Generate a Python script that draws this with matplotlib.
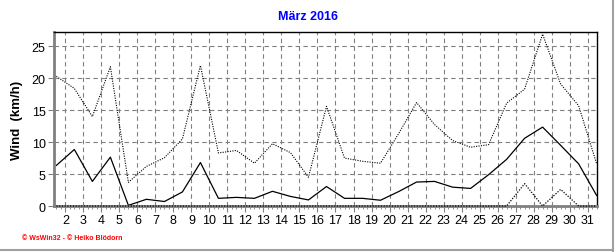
import numpy as np
import matplotlib
matplotlib.use("Agg")
import matplotlib.pyplot as plt
from matplotlib.ticker import MultipleLocator
from matplotlib.lines import Line2D

days = list(range(1, 32))
wind_avg = [6.35, 8.85, 3.85, 7.65, 0.1, 1.05, 0.7, 2.2, 6.8, 1.2,
            1.35, 1.2, 2.3, 1.5, 0.95, 3.05, 1.2, 1.2, 0.9, 2.25,
            3.75, 3.85, 2.95, 2.75, 4.9, 7.3, 10.6, 12.35, 9.5, 6.6, 1.65]
wind_max = [20.3, 18.4, 14.0, 21.8, 3.7, 6.2, 7.55, 10.5, 22.0, 8.3,
            8.7, 6.7, 9.75, 8.35, 4.5, 15.6, 7.5, 7.0, 6.7, 11.3,
            16.2, 12.75, 10.25, 9.2, 9.6, 16.1, 18.3, 26.9, 19.1, 15.7, 6.6]
wind_min = [0] * 26 + [3.5, 0, 2.6, 0, 0]
xtick_labels = [str(d) for d in range(2, 32)]

plt.rcParams["font.family"] = ["Liberation Sans", "DejaVu Sans"]

fig = plt.figure(figsize=(6.16, 2.53), dpi=100)
ax = fig.add_axes([54 / 616, 1 - 207 / 253, 543 / 616, 174 / 253])

x = np.array(days) + 0.5
ax.plot(x, wind_max, color="black", lw=0.8, ls=(0, (1, 1.2)))
ax.plot(x, wind_avg, color="black", lw=0.9)
ax.plot(x, wind_min, color="black", lw=0.9, ls=(0, (1, 1.2)), clip_on=False, zorder=5)

ax.set_xlim(1.37, 31.52)
ax.set_ylim(0, 27.24)

ax.set_xticks(range(2, 32))
ax.set_xticklabels(xtick_labels)
ax.xaxis.set_minor_locator(MultipleLocator(0.25))
ax.set_yticks([0, 5, 10, 15, 20, 25])

ax.grid(True, which="major", color="#808080", ls=(0, (4, 3)), lw=0.8)
ax.tick_params(axis="both", which="major", labelsize=9, length=4, width=0.8,
               color="#808080", pad=2)
ax.tick_params(axis="x", which="minor", length=2, width=0.6, color="#808080")

for side in ["left", "bottom"]:
    ax.spines[side].set_color("#808080")
    ax.spines[side].set_linewidth(2)
for side in ["top", "right"]:
    ax.spines[side].set_color("black")
    ax.spines[side].set_linewidth(1)

ax.set_ylabel("Wind  (km/h)", fontsize=9.5, fontweight="bold", labelpad=6)

fig.text(0.5, 1 - 17 / 253, "März 2016", color="#0000ff", fontsize=9,
         fontweight="bold", ha="center", va="center")
fig.text(22 / 616, 1 - 239 / 253, "© WsWin32 - © Heiko Blödorn", color="#ff0000",
         fontsize=5, fontweight="bold", ha="left", va="center")

fig.add_artist(Line2D([612.5 / 616, 612.5 / 616], [0, 1], color="#a0a0a0", lw=1.5))
fig.add_artist(Line2D([0, 613 / 616], [1 - 250.5 / 253, 1 - 250.5 / 253], color="#a0a0a0", lw=1.5))

plt.savefig("out.png", dpi=100)
plt.close()
